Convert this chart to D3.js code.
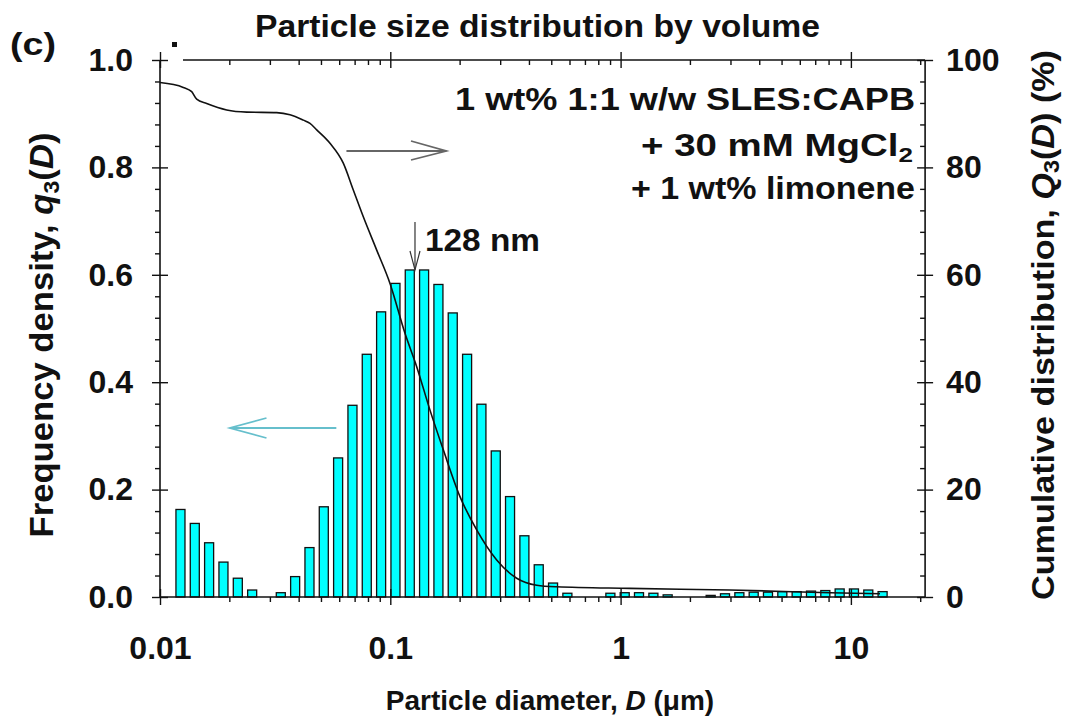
<!DOCTYPE html>
<html>
<head>
<meta charset="utf-8">
<script src="https://cdn.jsdelivr.net/npm/d3@7"></script>
<style>
  html, body { margin: 0; padding: 0; background: #ffffff; }
  svg { display: block; font-family: "Liberation Sans", Arial, sans-serif; }
  text { font-weight: bold; fill: #111; }
</style>
</head>
<body>
<svg id="chart" width="1068" height="718"></svg>
<script>
// ---- data ----
const binDiameters = [0.01227, 0.01416, 0.01634, 0.01886, 0.02177, 0.02513, 0.02900, 0.03346, 0.03862, 0.04457,
  0.05143, 0.05935, 0.06850, 0.07904, 0.09123, 0.1053, 0.1215, 0.1402, 0.1618, 0.1867,
  0.2155, 0.2487, 0.2870, 0.3311, 0.3822, 0.4411, 0.5090, 0.5874, 0.6779, 0.7823,
  0.9029, 1.042, 1.202, 1.388, 1.601, 1.848, 2.133, 2.461, 2.840, 3.279,
  3.784, 4.365, 5.038, 5.814, 6.711, 7.744, 8.937, 10.31, 11.90, 13.73];
const frequencyDensity = [0.163, 0.137, 0.101, 0.065, 0.035, 0.013, 0.000, 0.008, 0.038, 0.092,
  0.168, 0.259, 0.357, 0.452, 0.531, 0.584, 0.609, 0.609, 0.582, 0.529,
  0.452, 0.359, 0.272, 0.187, 0.114, 0.060, 0.026, 0.007, 0.000, 0.000,
  0.007, 0.008, 0.008, 0.007, 0.004, 0.000, 0.000, 0.003, 0.006, 0.008,
  0.009, 0.009, 0.010, 0.010, 0.011, 0.012, 0.015, 0.015, 0.013, 0.010];

const cumDiameters = [0.01, 0.01262, 0.01373, 0.01443, 0.01595, 0.01948, 0.02380, 0.03212, 0.03668, 0.04191,
  0.04480, 0.04791, 0.05472, 0.06250, 0.06908, 0.07635, 0.08730, 0.0997, 0.1158, 0.1302,
  0.1487, 0.1699, 0.2007, 0.2372, 0.2897, 0.3538, 0.4322, 0.5278, 1.098, 2.985, 8.116, 13.38];
const cumulativePct = [95.8, 94.9, 94.1, 92.7, 91.9, 90.7, 90.3, 90.2, 89.8, 88.8,
  88.2, 87.0, 84.5, 80.8, 75.8, 70.8, 64.6, 58.4, 49.1, 42.9,
  34.8, 27.4, 18.7, 12.5, 6.9, 3.5, 2.2, 1.9, 1.6, 1.3, 0.8, 0.6];

const xMajorTicks = [0.01, 0.1, 1, 10];
const xMajorLabels = ["0.01", "0.1", "1", "10"];
const xMinorTicks = [0.02, 0.03, 0.04, 0.05, 0.06, 0.07, 0.08, 0.09,
  0.2, 0.3, 0.4, 0.5, 0.6, 0.7, 0.8, 0.9, 2, 3, 4, 5, 6, 7, 8, 9, 20];
const yLeftMajor = [0, 0.2, 0.4, 0.6, 0.8, 1.0];
const yLeftLabels = ["0.0", "0.2", "0.4", "0.6", "0.8", "1.0"];
const yLeftMinor = [0.04, 0.08, 0.12, 0.16, 0.24, 0.28, 0.32, 0.36, 0.44, 0.48, 0.52, 0.56,
  0.64, 0.68, 0.72, 0.76, 0.84, 0.88, 0.92, 0.96];
const yRightMajor = [0, 20, 40, 60, 80, 100];
const yRightMinor = [4, 8, 12, 16, 24, 28, 32, 36, 44, 48, 52, 56, 64, 68, 72, 76, 84, 88, 92, 96];
const modeDiameter = 0.128;

// ---- layout ----
const L = 160, R = 925.1, T = 60, B = 597;
const svg = d3.select("#chart");
const FONT = "Liberation Sans, Arial, sans-serif";

const x = d3.scaleLog().domain([0.01, 21]).range([L, R]);
const y = d3.scaleLinear().domain([0, 1]).range([B, T]);
const yR = d3.scaleLinear().domain([0, 100]).range([B, T]);

// bars
const halfW = Math.pow(10, 0.0196);
const bars = binDiameters.map((d, i) => ({ d, v: frequencyDensity[i] })).filter(b => b.v > 0);
svg.append("g").selectAll("rect").data(bars).join("rect")
  .attr("x", b => x(b.d / halfW))
  .attr("width", b => x(b.d * halfW) - x(b.d / halfW))
  .attr("y", b => y(b.v))
  .attr("height", b => B - y(b.v))
  .attr("fill", "#00ffff")
  .attr("stroke", "#111")
  .attr("stroke-width", 1.3);

// cumulative line
const cum = cumDiameters.map((d, i) => [x(d), yR(cumulativePct[i])]);
svg.append("path")
  .attr("d", d3.line().curve(d3.curveMonotoneX)(cum))
  .attr("fill", "none").attr("stroke", "#111").attr("stroke-width", 1.6);

// axes frame
const frame = svg.append("g").attr("stroke", "#111").attr("stroke-width", 1.6).attr("fill", "none");
frame.append("line").attr("x1", L).attr("x2", R).attr("y1", B).attr("y2", B);
frame.append("line").attr("x1", 183).attr("x2", R).attr("y1", T).attr("y2", T);
frame.append("line").attr("x1", L).attr("x2", L).attr("y1", T).attr("y2", B);
frame.append("line").attr("x1", R).attr("x2", R).attr("y1", T).attr("y2", B);

function axisNoDomain(g) { g.select(".domain").remove(); g.selectAll("line").attr("stroke", "#111").attr("stroke-width", 1.4); }
function styleLabels(g) {
  g.selectAll("text").attr("font-size", 32).attr("font-weight", "bold").attr("fill", "#111").attr("font-family", FONT);
}

// bottom axis: major both sides, minor outward
svg.append("g").attr("transform", `translate(0,${B})`)
  .call(d3.axisBottom(x).tickValues(xMajorTicks).tickSize(8).tickPadding(31).tickFormat((d, i) => xMajorLabels[i]))
  .call(axisNoDomain).call(styleLabels);
svg.append("g").attr("transform", `translate(0,${B})`)
  .call(d3.axisTop(x).tickValues(xMajorTicks).tickSize(8).tickFormat("")).call(axisNoDomain);
svg.append("g").attr("transform", `translate(0,${B})`)
  .call(d3.axisBottom(x).tickValues(xMinorTicks).tickSize(5).tickFormat("")).call(axisNoDomain);
// top axis: major both sides, minor inward
svg.append("g").attr("transform", `translate(0,${T})`)
  .call(d3.axisTop(x).tickValues(xMajorTicks).tickSize(8).tickFormat("")).call(axisNoDomain);
svg.append("g").attr("transform", `translate(0,${T})`)
  .call(d3.axisBottom(x).tickValues(xMajorTicks).tickSize(8).tickFormat("")).call(axisNoDomain);
svg.append("g").attr("transform", `translate(0,${T})`)
  .call(d3.axisBottom(x).tickValues(xMinorTicks).tickSize(5).tickFormat("")).call(axisNoDomain);

// left axis: major both sides, minor outward
svg.append("g").attr("transform", `translate(${L},0)`)
  .call(d3.axisLeft(y).tickValues(yLeftMajor).tickSize(8).tickPadding(19).tickFormat((d, i) => yLeftLabels[i]))
  .call(axisNoDomain).call(styleLabels);
svg.append("g").attr("transform", `translate(${L},0)`)
  .call(d3.axisRight(y).tickValues(yLeftMajor).tickSize(8).tickFormat("")).call(axisNoDomain);
svg.append("g").attr("transform", `translate(${L},0)`)
  .call(d3.axisLeft(y).tickValues(yLeftMinor).tickSize(5).tickFormat("")).call(axisNoDomain);

// right axis: major both sides, minor inward
svg.append("g").attr("transform", `translate(${R},0)`)
  .call(d3.axisRight(yR).tickValues(yRightMajor).tickSize(8).tickPadding(13).tickFormat(d3.format("d")))
  .call(axisNoDomain).call(styleLabels);
svg.append("g").attr("transform", `translate(${R},0)`)
  .call(d3.axisLeft(yR).tickValues(yRightMajor).tickSize(8).tickFormat("")).call(axisNoDomain);
svg.append("g").attr("transform", `translate(${R},0)`)
  .call(d3.axisLeft(yR).tickValues(yRightMinor).tickSize(5).tickFormat("")).call(axisNoDomain);

function fit(sel, len) { return sel.attr("textLength", len).attr("lengthAdjust", "spacingAndGlyphs"); }

// titles
fit(svg.append("text").attr("x", 537.5).attr("y", 37).attr("text-anchor", "middle").attr("font-size", 31)
  .text("Particle size distribution by volume"), 565);
fit(svg.append("text").attr("x", 10).attr("y", 55).attr("font-size", 32).text("(c)"), 46);
svg.append("rect").attr("x", 172).attr("y", 42).attr("width", 5).attr("height", 5).attr("fill", "#111");

// axis labels
svg.append("text").attr("x", 550).attr("y", 710).attr("text-anchor", "middle").attr("font-size", 28)
  .html('Particle diameter, <tspan font-style="italic">D</tspan> (μm)');
fit(svg.append("text").attr("transform", "translate(53,335) rotate(-90)").attr("text-anchor", "middle").attr("font-size", 33)
  .html('Frequency density, <tspan font-style="italic">q</tspan><tspan font-size="22" dy="6">3</tspan><tspan dy="-6">(</tspan><tspan font-style="italic">D</tspan>)'), 405);
fit(svg.append("text").attr("transform", "translate(1054,325) rotate(-90)").attr("text-anchor", "middle").attr("font-size", 32)
  .html('Cumulative distribution, <tspan font-style="italic">Q</tspan><tspan font-size="22" dy="5">3</tspan><tspan dy="-5">(</tspan><tspan font-style="italic">D</tspan>) (%)'), 550);

// legend text
fit(svg.append("text").attr("x", 915).attr("y", 110).attr("text-anchor", "end").attr("font-size", 32)
  .text("1 wt% 1:1 w/w SLES:CAPB"), 460);
fit(svg.append("text").attr("x", 913).attr("y", 156).attr("text-anchor", "end").attr("font-size", 31)
  .html('+ 30 mM MgCl<tspan font-size="21" dy="6">2</tspan>'), 272);
fit(svg.append("text").attr("x", 915).attr("y", 199).attr("text-anchor", "end").attr("font-size", 31)
  .text("+ 1 wt% limonene"), 284);

// mode annotation
const xm = x(modeDiameter);
const ann = svg.append("g").attr("stroke", "#333").attr("stroke-width", 1.2).attr("fill", "none");
ann.append("line").attr("x1", xm).attr("x2", xm).attr("y1", 222).attr("y2", 270);
ann.append("polyline").attr("points", `${xm - 5},251 ${xm},270 ${xm + 5},251`);
fit(svg.append("text").attr("x", xm + 10).attr("y", 251).attr("font-size", 31).text("128 nm"), 115);

// direction arrows
const a1 = svg.append("g").attr("stroke", "#666").attr("stroke-width", 1.8).attr("fill", "none");
a1.append("line").attr("x1", x(0.0645)).attr("x2", x(0.175)).attr("y1", 151).attr("y2", 151);
a1.append("polyline").attr("points", `${x(0.123)},141 ${x(0.175)},151 ${x(0.123)},160`);
const a2 = svg.append("g").attr("stroke", "#66bfcc").attr("stroke-width", 1.8).attr("fill", "none");
a2.append("line").attr("x1", x(0.0583)).attr("x2", x(0.0201)).attr("y1", 428).attr("y2", 428);
a2.append("polyline").attr("points", `${x(0.029)},418 ${x(0.0201)},428 ${x(0.029)},438`);
</script>
</body>
</html>
